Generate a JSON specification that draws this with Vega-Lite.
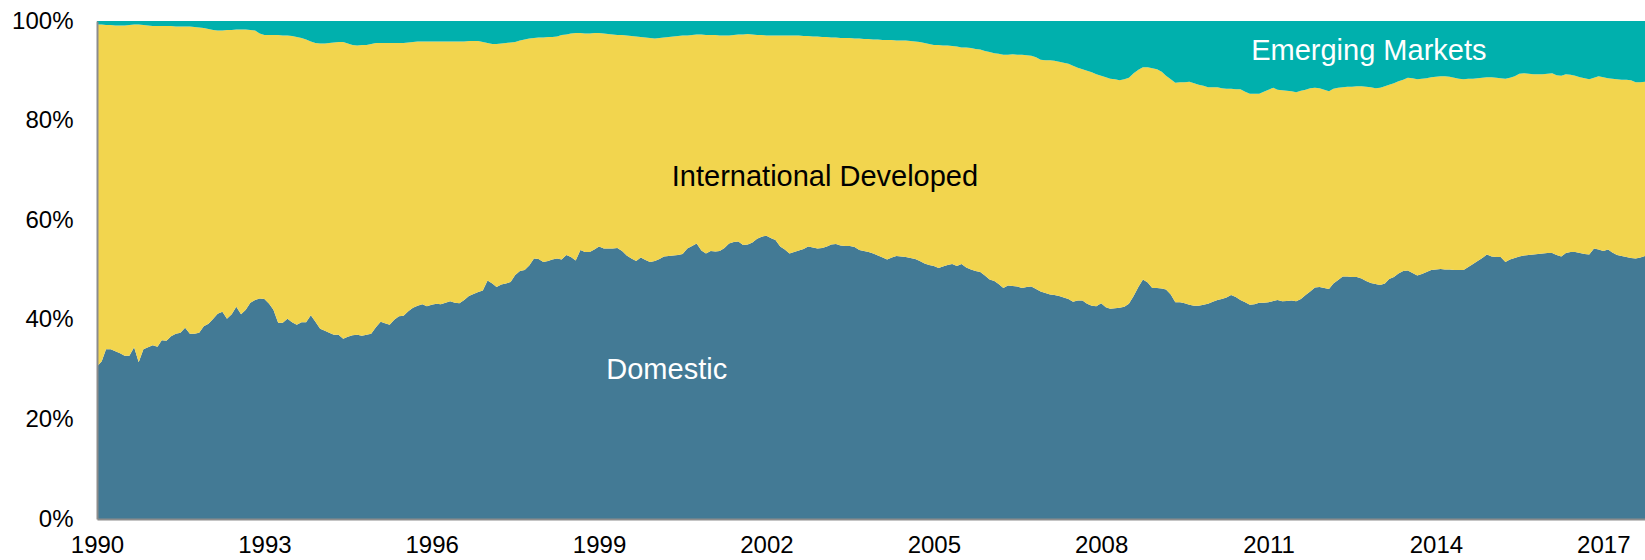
{
"$schema":"https://vega.github.io/schema/vega-lite/v6.json",
"width":1548,"height":498,
"autosize":"none",
"padding":{"left":97,"top":21,"right":0,"bottom":41},
"background":"white",
"config":{"view":{"stroke":null},"font":"Liberation Sans"},
"datasets":{
"shares":[
{"d":"1990-01","dom":30.6,"intl":68.7,"intl_em":0.7},
{"d":"1990-02","dom":31.7,"intl":67.6,"intl_em":0.7},
{"d":"1990-03","dom":34.1,"intl":65.1,"intl_em":0.8},
{"d":"1990-04","dom":34.1,"intl":65.1,"intl_em":0.8},
{"d":"1990-05","dom":33.7,"intl":65.4,"intl_em":0.9},
{"d":"1990-06","dom":33.3,"intl":65.8,"intl_em":0.9},
{"d":"1990-07","dom":32.8,"intl":66.3,"intl_em":0.9},
{"d":"1990-08","dom":32.8,"intl":66.4,"intl_em":0.8},
{"d":"1990-09","dom":34.5,"intl":64.8,"intl_em":0.7},
{"d":"1990-10","dom":31.5,"intl":67.8,"intl_em":0.7},
{"d":"1990-11","dom":34.1,"intl":65.1,"intl_em":0.8},
{"d":"1990-12","dom":34.5,"intl":64.6,"intl_em":0.9},
{"d":"1991-01","dom":34.9,"intl":64.1,"intl_em":1.0},
{"d":"1991-02","dom":34.6,"intl":64.4,"intl_em":1.0},
{"d":"1991-03","dom":35.9,"intl":63.1,"intl_em":1.0},
{"d":"1991-04","dom":35.8,"intl":63.2,"intl_em":1.0},
{"d":"1991-05","dom":36.7,"intl":62.3,"intl_em":1.0},
{"d":"1991-06","dom":37.2,"intl":61.7,"intl_em":1.1},
{"d":"1991-07","dom":37.4,"intl":61.5,"intl_em":1.1},
{"d":"1991-08","dom":38.4,"intl":60.5,"intl_em":1.1},
{"d":"1991-09","dom":37.2,"intl":61.7,"intl_em":1.1},
{"d":"1991-10","dom":37.2,"intl":61.6,"intl_em":1.2},
{"d":"1991-11","dom":37.4,"intl":61.3,"intl_em":1.3},
{"d":"1991-12","dom":38.7,"intl":59.9,"intl_em":1.4},
{"d":"1992-01","dom":39.2,"intl":59.2,"intl_em":1.6},
{"d":"1992-02","dom":40.2,"intl":58.0,"intl_em":1.8},
{"d":"1992-03","dom":41.2,"intl":56.9,"intl_em":1.9},
{"d":"1992-04","dom":41.6,"intl":56.5,"intl_em":1.9},
{"d":"1992-05","dom":40.2,"intl":58.0,"intl_em":1.8},
{"d":"1992-06","dom":41.1,"intl":57.1,"intl_em":1.8},
{"d":"1992-07","dom":42.6,"intl":55.7,"intl_em":1.7},
{"d":"1992-08","dom":41.1,"intl":57.2,"intl_em":1.7},
{"d":"1992-09","dom":42.0,"intl":56.3,"intl_em":1.7},
{"d":"1992-10","dom":43.4,"intl":54.8,"intl_em":1.8},
{"d":"1992-11","dom":44.0,"intl":54.1,"intl_em":1.9},
{"d":"1992-12","dom":44.3,"intl":53.2,"intl_em":2.5},
{"d":"1993-01","dom":44.2,"intl":53.0,"intl_em":2.8},
{"d":"1993-02","dom":43.2,"intl":54.0,"intl_em":2.8},
{"d":"1993-03","dom":42.0,"intl":55.2,"intl_em":2.8},
{"d":"1993-04","dom":39.4,"intl":57.8,"intl_em":2.8},
{"d":"1993-05","dom":39.4,"intl":57.7,"intl_em":2.9},
{"d":"1993-06","dom":40.2,"intl":56.9,"intl_em":2.9},
{"d":"1993-07","dom":39.5,"intl":57.5,"intl_em":3.0},
{"d":"1993-08","dom":39.0,"intl":57.8,"intl_em":3.2},
{"d":"1993-09","dom":39.5,"intl":57.1,"intl_em":3.4},
{"d":"1993-10","dom":39.5,"intl":56.8,"intl_em":3.7},
{"d":"1993-11","dom":40.9,"intl":55.0,"intl_em":4.1},
{"d":"1993-12","dom":39.6,"intl":56.0,"intl_em":4.4},
{"d":"1994-01","dom":38.2,"intl":57.3,"intl_em":4.5},
{"d":"1994-02","dom":37.8,"intl":57.7,"intl_em":4.5},
{"d":"1994-03","dom":37.4,"intl":58.2,"intl_em":4.4},
{"d":"1994-04","dom":37.0,"intl":58.7,"intl_em":4.3},
{"d":"1994-05","dom":37.0,"intl":58.8,"intl_em":4.2},
{"d":"1994-06","dom":36.2,"intl":59.6,"intl_em":4.2},
{"d":"1994-07","dom":36.6,"intl":58.9,"intl_em":4.5},
{"d":"1994-08","dom":36.9,"intl":58.3,"intl_em":4.8},
{"d":"1994-09","dom":37.0,"intl":58.1,"intl_em":4.9},
{"d":"1994-10","dom":36.8,"intl":58.4,"intl_em":4.8},
{"d":"1994-11","dom":37.0,"intl":58.2,"intl_em":4.8},
{"d":"1994-12","dom":37.2,"intl":58.2,"intl_em":4.6},
{"d":"1995-01","dom":38.5,"intl":57.1,"intl_em":4.4},
{"d":"1995-02","dom":39.6,"intl":56.0,"intl_em":4.4},
{"d":"1995-03","dom":39.3,"intl":56.3,"intl_em":4.4},
{"d":"1995-04","dom":39.0,"intl":56.6,"intl_em":4.4},
{"d":"1995-05","dom":40.0,"intl":55.6,"intl_em":4.4},
{"d":"1995-06","dom":40.7,"intl":54.9,"intl_em":4.4},
{"d":"1995-07","dom":40.8,"intl":54.8,"intl_em":4.4},
{"d":"1995-08","dom":41.7,"intl":54.0,"intl_em":4.3},
{"d":"1995-09","dom":42.4,"intl":53.4,"intl_em":4.2},
{"d":"1995-10","dom":42.8,"intl":53.1,"intl_em":4.1},
{"d":"1995-11","dom":43.1,"intl":52.8,"intl_em":4.1},
{"d":"1995-12","dom":42.7,"intl":53.2,"intl_em":4.1},
{"d":"1996-01","dom":43.0,"intl":52.9,"intl_em":4.1},
{"d":"1996-02","dom":43.2,"intl":52.7,"intl_em":4.1},
{"d":"1996-03","dom":43.1,"intl":52.8,"intl_em":4.1},
{"d":"1996-04","dom":43.4,"intl":52.5,"intl_em":4.1},
{"d":"1996-05","dom":43.7,"intl":52.2,"intl_em":4.1},
{"d":"1996-06","dom":43.4,"intl":52.5,"intl_em":4.1},
{"d":"1996-07","dom":43.3,"intl":52.6,"intl_em":4.1},
{"d":"1996-08","dom":44.0,"intl":51.9,"intl_em":4.1},
{"d":"1996-09","dom":44.8,"intl":51.2,"intl_em":4.0},
{"d":"1996-10","dom":45.2,"intl":50.8,"intl_em":4.0},
{"d":"1996-11","dom":45.6,"intl":50.4,"intl_em":4.0},
{"d":"1996-12","dom":45.9,"intl":49.9,"intl_em":4.2},
{"d":"1997-01","dom":47.9,"intl":47.7,"intl_em":4.4},
{"d":"1997-02","dom":47.3,"intl":48.1,"intl_em":4.6},
{"d":"1997-03","dom":46.6,"intl":48.8,"intl_em":4.6},
{"d":"1997-04","dom":47.1,"intl":48.4,"intl_em":4.5},
{"d":"1997-05","dom":47.3,"intl":48.3,"intl_em":4.4},
{"d":"1997-06","dom":47.6,"intl":48.1,"intl_em":4.3},
{"d":"1997-07","dom":49.0,"intl":46.8,"intl_em":4.2},
{"d":"1997-08","dom":49.8,"intl":46.3,"intl_em":3.9},
{"d":"1997-09","dom":50.0,"intl":46.3,"intl_em":3.7},
{"d":"1997-10","dom":50.9,"intl":45.6,"intl_em":3.5},
{"d":"1997-11","dom":52.3,"intl":44.3,"intl_em":3.4},
{"d":"1997-12","dom":52.2,"intl":44.5,"intl_em":3.3},
{"d":"1998-01","dom":51.6,"intl":45.1,"intl_em":3.3},
{"d":"1998-02","dom":51.8,"intl":45.0,"intl_em":3.2},
{"d":"1998-03","dom":52.1,"intl":44.7,"intl_em":3.2},
{"d":"1998-04","dom":52.3,"intl":44.6,"intl_em":3.1},
{"d":"1998-05","dom":52.1,"intl":45.1,"intl_em":2.8},
{"d":"1998-06","dom":53.0,"intl":44.3,"intl_em":2.7},
{"d":"1998-07","dom":52.6,"intl":44.9,"intl_em":2.5},
{"d":"1998-08","dom":51.9,"intl":45.7,"intl_em":2.4},
{"d":"1998-09","dom":54.0,"intl":43.6,"intl_em":2.4},
{"d":"1998-10","dom":53.6,"intl":43.9,"intl_em":2.5},
{"d":"1998-11","dom":53.6,"intl":43.9,"intl_em":2.5},
{"d":"1998-12","dom":54.1,"intl":43.5,"intl_em":2.4},
{"d":"1999-01","dom":54.7,"intl":42.9,"intl_em":2.4},
{"d":"1999-02","dom":54.3,"intl":43.2,"intl_em":2.5},
{"d":"1999-03","dom":54.3,"intl":43.1,"intl_em":2.6},
{"d":"1999-04","dom":54.3,"intl":43.0,"intl_em":2.7},
{"d":"1999-05","dom":54.4,"intl":42.8,"intl_em":2.8},
{"d":"1999-06","dom":53.8,"intl":43.4,"intl_em":2.8},
{"d":"1999-07","dom":52.9,"intl":44.2,"intl_em":2.9},
{"d":"1999-08","dom":52.3,"intl":44.7,"intl_em":3.0},
{"d":"1999-09","dom":51.8,"intl":45.1,"intl_em":3.1},
{"d":"1999-10","dom":52.5,"intl":44.3,"intl_em":3.2},
{"d":"1999-11","dom":52.0,"intl":44.7,"intl_em":3.3},
{"d":"1999-12","dom":51.6,"intl":45.0,"intl_em":3.4},
{"d":"2000-01","dom":51.8,"intl":44.7,"intl_em":3.5},
{"d":"2000-02","dom":52.2,"intl":44.4,"intl_em":3.4},
{"d":"2000-03","dom":52.7,"intl":44.0,"intl_em":3.3},
{"d":"2000-04","dom":52.8,"intl":44.0,"intl_em":3.2},
{"d":"2000-05","dom":52.9,"intl":44.0,"intl_em":3.1},
{"d":"2000-06","dom":53.0,"intl":44.0,"intl_em":3.0},
{"d":"2000-07","dom":53.2,"intl":43.9,"intl_em":2.9},
{"d":"2000-08","dom":54.3,"intl":42.8,"intl_em":2.9},
{"d":"2000-09","dom":54.8,"intl":42.4,"intl_em":2.8},
{"d":"2000-10","dom":55.3,"intl":42.0,"intl_em":2.7},
{"d":"2000-11","dom":53.9,"intl":43.4,"intl_em":2.7},
{"d":"2000-12","dom":53.3,"intl":43.9,"intl_em":2.8},
{"d":"2001-01","dom":53.8,"intl":43.4,"intl_em":2.8},
{"d":"2001-02","dom":53.7,"intl":43.5,"intl_em":2.8},
{"d":"2001-03","dom":53.8,"intl":43.3,"intl_em":2.9},
{"d":"2001-04","dom":54.4,"intl":42.7,"intl_em":2.9},
{"d":"2001-05","dom":55.3,"intl":41.8,"intl_em":2.9},
{"d":"2001-06","dom":55.6,"intl":41.6,"intl_em":2.8},
{"d":"2001-07","dom":55.7,"intl":41.6,"intl_em":2.7},
{"d":"2001-08","dom":55.0,"intl":42.3,"intl_em":2.7},
{"d":"2001-09","dom":55.1,"intl":42.3,"intl_em":2.6},
{"d":"2001-10","dom":55.5,"intl":41.8,"intl_em":2.7},
{"d":"2001-11","dom":56.3,"intl":40.9,"intl_em":2.8},
{"d":"2001-12","dom":56.7,"intl":40.5,"intl_em":2.8},
{"d":"2002-01","dom":56.9,"intl":40.2,"intl_em":2.9},
{"d":"2002-02","dom":56.4,"intl":40.7,"intl_em":2.9},
{"d":"2002-03","dom":56.0,"intl":41.1,"intl_em":2.9},
{"d":"2002-04","dom":54.7,"intl":42.4,"intl_em":2.9},
{"d":"2002-05","dom":54.1,"intl":43.0,"intl_em":2.9},
{"d":"2002-06","dom":53.3,"intl":43.8,"intl_em":2.9},
{"d":"2002-07","dom":53.6,"intl":43.5,"intl_em":2.9},
{"d":"2002-08","dom":53.9,"intl":43.2,"intl_em":2.9},
{"d":"2002-09","dom":54.2,"intl":42.8,"intl_em":3.0},
{"d":"2002-10","dom":54.7,"intl":42.3,"intl_em":3.0},
{"d":"2002-11","dom":54.5,"intl":42.4,"intl_em":3.1},
{"d":"2002-12","dom":54.3,"intl":42.6,"intl_em":3.1},
{"d":"2003-01","dom":54.4,"intl":42.4,"intl_em":3.2},
{"d":"2003-02","dom":54.7,"intl":42.1,"intl_em":3.2},
{"d":"2003-03","dom":55.1,"intl":41.6,"intl_em":3.3},
{"d":"2003-04","dom":55.2,"intl":41.5,"intl_em":3.3},
{"d":"2003-05","dom":54.9,"intl":41.7,"intl_em":3.4},
{"d":"2003-06","dom":54.8,"intl":41.8,"intl_em":3.4},
{"d":"2003-07","dom":54.8,"intl":41.8,"intl_em":3.4},
{"d":"2003-08","dom":54.6,"intl":41.9,"intl_em":3.5},
{"d":"2003-09","dom":54.0,"intl":42.5,"intl_em":3.5},
{"d":"2003-10","dom":53.8,"intl":42.6,"intl_em":3.6},
{"d":"2003-11","dom":53.6,"intl":42.8,"intl_em":3.6},
{"d":"2003-12","dom":53.3,"intl":43.0,"intl_em":3.7},
{"d":"2004-01","dom":52.9,"intl":43.4,"intl_em":3.7},
{"d":"2004-02","dom":52.5,"intl":43.7,"intl_em":3.8},
{"d":"2004-03","dom":52.1,"intl":44.1,"intl_em":3.8},
{"d":"2004-04","dom":52.5,"intl":43.7,"intl_em":3.8},
{"d":"2004-05","dom":52.8,"intl":43.3,"intl_em":3.9},
{"d":"2004-06","dom":52.7,"intl":43.4,"intl_em":3.9},
{"d":"2004-07","dom":52.6,"intl":43.5,"intl_em":3.9},
{"d":"2004-08","dom":52.4,"intl":43.6,"intl_em":4.0},
{"d":"2004-09","dom":52.2,"intl":43.7,"intl_em":4.1},
{"d":"2004-10","dom":51.8,"intl":44.0,"intl_em":4.2},
{"d":"2004-11","dom":51.3,"intl":44.3,"intl_em":4.4},
{"d":"2004-12","dom":51.0,"intl":44.4,"intl_em":4.6},
{"d":"2005-01","dom":50.8,"intl":44.4,"intl_em":4.8},
{"d":"2005-02","dom":50.4,"intl":44.8,"intl_em":4.8},
{"d":"2005-03","dom":50.7,"intl":44.4,"intl_em":4.9},
{"d":"2005-04","dom":51.0,"intl":44.1,"intl_em":4.9},
{"d":"2005-05","dom":51.2,"intl":43.8,"intl_em":5.0},
{"d":"2005-06","dom":50.8,"intl":44.1,"intl_em":5.1},
{"d":"2005-07","dom":51.2,"intl":43.5,"intl_em":5.3},
{"d":"2005-08","dom":50.5,"intl":44.2,"intl_em":5.3},
{"d":"2005-09","dom":50.1,"intl":44.5,"intl_em":5.4},
{"d":"2005-10","dom":49.8,"intl":44.6,"intl_em":5.6},
{"d":"2005-11","dom":49.6,"intl":44.7,"intl_em":5.7},
{"d":"2005-12","dom":48.9,"intl":45.1,"intl_em":6.0},
{"d":"2006-01","dom":48.1,"intl":45.7,"intl_em":6.2},
{"d":"2006-02","dom":47.8,"intl":45.7,"intl_em":6.5},
{"d":"2006-03","dom":47.2,"intl":46.2,"intl_em":6.6},
{"d":"2006-04","dom":46.4,"intl":46.8,"intl_em":6.8},
{"d":"2006-05","dom":46.9,"intl":46.3,"intl_em":6.8},
{"d":"2006-06","dom":46.8,"intl":46.5,"intl_em":6.7},
{"d":"2006-07","dom":46.7,"intl":46.5,"intl_em":6.8},
{"d":"2006-08","dom":46.4,"intl":46.8,"intl_em":6.8},
{"d":"2006-09","dom":46.6,"intl":46.5,"intl_em":6.9},
{"d":"2006-10","dom":46.7,"intl":46.3,"intl_em":7.0},
{"d":"2006-11","dom":46.2,"intl":46.5,"intl_em":7.3},
{"d":"2006-12","dom":45.7,"intl":46.5,"intl_em":7.8},
{"d":"2007-01","dom":45.4,"intl":46.7,"intl_em":7.9},
{"d":"2007-02","dom":45.1,"intl":47.0,"intl_em":7.9},
{"d":"2007-03","dom":45.0,"intl":47.0,"intl_em":8.0},
{"d":"2007-04","dom":44.8,"intl":47.0,"intl_em":8.2},
{"d":"2007-05","dom":44.5,"intl":47.1,"intl_em":8.4},
{"d":"2007-06","dom":44.2,"intl":47.2,"intl_em":8.6},
{"d":"2007-07","dom":43.6,"intl":47.4,"intl_em":9.0},
{"d":"2007-08","dom":43.9,"intl":46.7,"intl_em":9.4},
{"d":"2007-09","dom":43.9,"intl":46.4,"intl_em":9.7},
{"d":"2007-10","dom":43.2,"intl":46.8,"intl_em":10.0},
{"d":"2007-11","dom":42.8,"intl":46.9,"intl_em":10.3},
{"d":"2007-12","dom":42.7,"intl":46.6,"intl_em":10.7},
{"d":"2008-01","dom":43.3,"intl":45.7,"intl_em":11.0},
{"d":"2008-02","dom":42.5,"intl":46.2,"intl_em":11.3},
{"d":"2008-03","dom":42.2,"intl":46.2,"intl_em":11.6},
{"d":"2008-04","dom":42.3,"intl":46.0,"intl_em":11.7},
{"d":"2008-05","dom":42.4,"intl":45.7,"intl_em":11.9},
{"d":"2008-06","dom":42.6,"intl":45.7,"intl_em":11.7},
{"d":"2008-07","dom":43.2,"intl":45.4,"intl_em":11.4},
{"d":"2008-08","dom":44.8,"intl":44.7,"intl_em":10.5},
{"d":"2008-09","dom":46.6,"intl":43.6,"intl_em":9.8},
{"d":"2008-10","dom":48.1,"intl":42.6,"intl_em":9.3},
{"d":"2008-11","dom":47.5,"intl":43.2,"intl_em":9.3},
{"d":"2008-12","dom":46.4,"intl":44.1,"intl_em":9.5},
{"d":"2009-01","dom":46.4,"intl":43.9,"intl_em":9.7},
{"d":"2009-02","dom":46.3,"intl":43.5,"intl_em":10.2},
{"d":"2009-03","dom":46.1,"intl":42.9,"intl_em":11.0},
{"d":"2009-04","dom":45.1,"intl":43.2,"intl_em":11.7},
{"d":"2009-05","dom":43.5,"intl":44.1,"intl_em":12.4},
{"d":"2009-06","dom":43.5,"intl":44.2,"intl_em":12.3},
{"d":"2009-07","dom":43.3,"intl":44.4,"intl_em":12.3},
{"d":"2009-08","dom":43.0,"intl":44.8,"intl_em":12.2},
{"d":"2009-09","dom":42.8,"intl":44.7,"intl_em":12.5},
{"d":"2009-10","dom":42.8,"intl":44.4,"intl_em":12.8},
{"d":"2009-11","dom":43.0,"intl":44.0,"intl_em":13.0},
{"d":"2009-12","dom":43.2,"intl":43.5,"intl_em":13.3},
{"d":"2010-01","dom":43.6,"intl":43.1,"intl_em":13.3},
{"d":"2010-02","dom":44.0,"intl":42.7,"intl_em":13.3},
{"d":"2010-03","dom":44.2,"intl":42.3,"intl_em":13.5},
{"d":"2010-04","dom":44.5,"intl":41.9,"intl_em":13.6},
{"d":"2010-05","dom":45.0,"intl":41.4,"intl_em":13.6},
{"d":"2010-06","dom":44.6,"intl":41.7,"intl_em":13.7},
{"d":"2010-07","dom":44.0,"intl":42.3,"intl_em":13.7},
{"d":"2010-08","dom":43.5,"intl":42.3,"intl_em":14.2},
{"d":"2010-09","dom":43.0,"intl":42.4,"intl_em":14.6},
{"d":"2010-10","dom":43.1,"intl":42.3,"intl_em":14.6},
{"d":"2010-11","dom":43.4,"intl":42.0,"intl_em":14.6},
{"d":"2010-12","dom":43.4,"intl":42.4,"intl_em":14.2},
{"d":"2011-01","dom":43.5,"intl":42.7,"intl_em":13.8},
{"d":"2011-02","dom":43.8,"intl":42.8,"intl_em":13.4},
{"d":"2011-03","dom":44.0,"intl":42.2,"intl_em":13.8},
{"d":"2011-04","dom":43.7,"intl":42.4,"intl_em":13.9},
{"d":"2011-05","dom":43.8,"intl":42.2,"intl_em":14.0},
{"d":"2011-06","dom":43.9,"intl":42.0,"intl_em":14.1},
{"d":"2011-07","dom":43.7,"intl":42.0,"intl_em":14.3},
{"d":"2011-08","dom":44.2,"intl":41.8,"intl_em":14.0},
{"d":"2011-09","dom":45.0,"intl":41.2,"intl_em":13.8},
{"d":"2011-10","dom":45.7,"intl":40.8,"intl_em":13.5},
{"d":"2011-11","dom":46.5,"intl":40.1,"intl_em":13.4},
{"d":"2011-12","dom":46.6,"intl":39.9,"intl_em":13.5},
{"d":"2012-01","dom":46.4,"intl":39.8,"intl_em":13.8},
{"d":"2012-02","dom":46.2,"intl":39.7,"intl_em":14.1},
{"d":"2012-03","dom":47.3,"intl":39.1,"intl_em":13.6},
{"d":"2012-04","dom":48.0,"intl":38.6,"intl_em":13.4},
{"d":"2012-05","dom":48.7,"intl":38.0,"intl_em":13.3},
{"d":"2012-06","dom":48.7,"intl":38.1,"intl_em":13.2},
{"d":"2012-07","dom":48.6,"intl":38.2,"intl_em":13.2},
{"d":"2012-08","dom":48.6,"intl":38.3,"intl_em":13.1},
{"d":"2012-09","dom":48.3,"intl":38.6,"intl_em":13.1},
{"d":"2012-10","dom":47.8,"intl":39.0,"intl_em":13.2},
{"d":"2012-11","dom":47.4,"intl":39.3,"intl_em":13.3},
{"d":"2012-12","dom":47.2,"intl":39.3,"intl_em":13.5},
{"d":"2013-01","dom":47.0,"intl":39.6,"intl_em":13.4},
{"d":"2013-02","dom":47.3,"intl":39.6,"intl_em":13.1},
{"d":"2013-03","dom":48.2,"intl":39.0,"intl_em":12.8},
{"d":"2013-04","dom":48.6,"intl":38.9,"intl_em":12.5},
{"d":"2013-05","dom":49.3,"intl":38.6,"intl_em":12.1},
{"d":"2013-06","dom":49.8,"intl":38.4,"intl_em":11.8},
{"d":"2013-07","dom":49.9,"intl":38.7,"intl_em":11.4},
{"d":"2013-08","dom":49.4,"intl":39.1,"intl_em":11.5},
{"d":"2013-09","dom":48.9,"intl":39.4,"intl_em":11.7},
{"d":"2013-10","dom":49.2,"intl":39.2,"intl_em":11.6},
{"d":"2013-11","dom":49.6,"intl":38.9,"intl_em":11.5},
{"d":"2013-12","dom":50.0,"intl":38.7,"intl_em":11.3},
{"d":"2014-01","dom":50.1,"intl":38.7,"intl_em":11.2},
{"d":"2014-02","dom":50.2,"intl":38.7,"intl_em":11.1},
{"d":"2014-03","dom":50.1,"intl":38.8,"intl_em":11.1},
{"d":"2014-04","dom":50.1,"intl":38.7,"intl_em":11.2},
{"d":"2014-05","dom":50.0,"intl":38.6,"intl_em":11.4},
{"d":"2014-06","dom":50.0,"intl":38.4,"intl_em":11.6},
{"d":"2014-07","dom":50.0,"intl":38.3,"intl_em":11.7},
{"d":"2014-08","dom":50.6,"intl":37.8,"intl_em":11.6},
{"d":"2014-09","dom":51.2,"intl":37.2,"intl_em":11.6},
{"d":"2014-10","dom":51.8,"intl":36.7,"intl_em":11.5},
{"d":"2014-11","dom":52.4,"intl":36.2,"intl_em":11.4},
{"d":"2014-12","dom":53.1,"intl":35.6,"intl_em":11.3},
{"d":"2015-01","dom":52.7,"intl":36.0,"intl_em":11.3},
{"d":"2015-02","dom":52.6,"intl":36.0,"intl_em":11.4},
{"d":"2015-03","dom":52.6,"intl":35.9,"intl_em":11.5},
{"d":"2015-04","dom":51.6,"intl":36.8,"intl_em":11.6},
{"d":"2015-05","dom":52.1,"intl":36.5,"intl_em":11.4},
{"d":"2015-06","dom":52.4,"intl":36.5,"intl_em":11.1},
{"d":"2015-07","dom":52.7,"intl":36.7,"intl_em":10.6},
{"d":"2015-08","dom":52.9,"intl":36.6,"intl_em":10.5},
{"d":"2015-09","dom":53.0,"intl":36.4,"intl_em":10.6},
{"d":"2015-10","dom":53.1,"intl":36.2,"intl_em":10.7},
{"d":"2015-11","dom":53.2,"intl":36.1,"intl_em":10.7},
{"d":"2015-12","dom":53.3,"intl":36.0,"intl_em":10.7},
{"d":"2016-01","dom":53.4,"intl":36.0,"intl_em":10.6},
{"d":"2016-02","dom":53.4,"intl":36.1,"intl_em":10.5},
{"d":"2016-03","dom":53.0,"intl":36.1,"intl_em":10.9},
{"d":"2016-04","dom":52.7,"intl":36.3,"intl_em":11.0},
{"d":"2016-05","dom":53.4,"intl":35.9,"intl_em":10.7},
{"d":"2016-06","dom":53.6,"intl":35.6,"intl_em":10.8},
{"d":"2016-07","dom":53.6,"intl":35.4,"intl_em":11.0},
{"d":"2016-08","dom":53.4,"intl":35.3,"intl_em":11.3},
{"d":"2016-09","dom":53.2,"intl":35.3,"intl_em":11.5},
{"d":"2016-10","dom":53.1,"intl":35.2,"intl_em":11.7},
{"d":"2016-11","dom":54.3,"intl":34.3,"intl_em":11.4},
{"d":"2016-12","dom":54.1,"intl":34.8,"intl_em":11.1},
{"d":"2017-01","dom":53.8,"intl":34.9,"intl_em":11.3},
{"d":"2017-02","dom":54.1,"intl":34.4,"intl_em":11.5},
{"d":"2017-03","dom":53.5,"intl":34.9,"intl_em":11.6},
{"d":"2017-04","dom":53.0,"intl":35.3,"intl_em":11.7},
{"d":"2017-05","dom":52.8,"intl":35.4,"intl_em":11.8},
{"d":"2017-06","dom":52.6,"intl":35.6,"intl_em":11.8},
{"d":"2017-07","dom":52.4,"intl":35.7,"intl_em":11.9},
{"d":"2017-08","dom":52.3,"intl":35.4,"intl_em":12.3},
{"d":"2017-09","dom":52.5,"intl":35.2,"intl_em":12.3},
{"d":"2017-10","dom":52.8,"intl":35.0,"intl_em":12.2}
],
"labels":[
{"label":"Emerging Markets","d":"2012-10-19","v":94.0},
{"label":"International Developed","d":"2003-01-19","v":68.7},
{"label":"Domestic","d":"2000-03-19","v":29.9}
]
},
"layer":[
{
"data":{"name":"shares"},
"transform":[{"fold":["dom","intl","intl_em"],"as":["k","v"]}],
"mark":{"type":"area","interpolate":"linear"},
"encoding":{
"x":{"field":"d","type":"temporal",
"scale":{"type":"utc","nice":false,"domain":[{"year":1990,"month":1,"date":1,"utc":true},{"year":2017,"month":10,"date":1,"utc":true}]},
"axis":{"title":null,"format":"%Y","grid":false,"ticks":false,"labelFlush":false,"labelOverlap":false,"labelPadding":14,"labelFontSize":24,"labelFont":"Liberation Sans","labelColor":"#000000","domainColor":"#8C8C8C","domainWidth":2,"zindex":1,
"values":[{"year":1990,"utc":true},{"year":1993,"utc":true},{"year":1996,"utc":true},{"year":1999,"utc":true},{"year":2002,"utc":true},{"year":2005,"utc":true},{"year":2008,"utc":true},{"year":2011,"utc":true},{"year":2014,"utc":true},{"year":2017,"utc":true}]}},
"y":{"field":"v","type":"quantitative","stack":"zero",
"scale":{"domain":[0,100],"nice":false},
"axis":{"title":null,"grid":false,"ticks":false,"labelPadding":24,"labelFontSize":24,"labelFont":"Liberation Sans","labelColor":"#000000","domainColor":"#8C8C8C","domainWidth":2,"zindex":1,"values":[0,20,40,60,80,100],"labelExpr":"datum.value + '%'"}},
"color":{"field":"k","type":"nominal","scale":{"domain":["dom","intl","intl_em"],"range":["#437A95","#F2D54E","#00B0AD"]},"legend":null},
"order":{"field":"k","sort":"ascending"}
}
},
{
"data":{"name":"labels"},
"mark":{"type":"text","fontSize":29,"font":"Liberation Sans","align":"center","baseline":"middle"},
"encoding":{
"x":{"field":"d","type":"temporal"},
"y":{"field":"v","type":"quantitative"},
"text":{"field":"label"},
"color":{"field":"label","type":"nominal","scale":{"domain":["Emerging Markets","International Developed","Domestic"],"range":["#FFFFFF","#000000","#FFFFFF"]},"legend":null}
}
}
],
"resolve":{"scale":{"color":"independent"}}
}
